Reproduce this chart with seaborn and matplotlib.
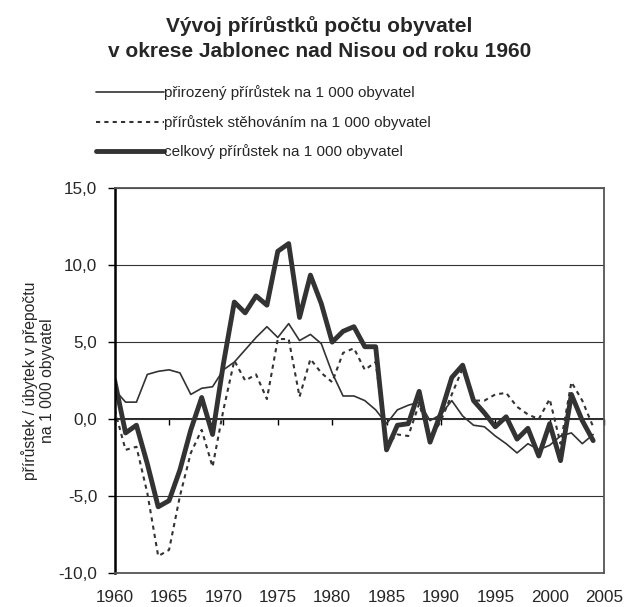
import numpy as np
import pandas as pd
import matplotlib
matplotlib.use('Agg')
import matplotlib.pyplot as plt
import seaborn as sns
from matplotlib.ticker import FuncFormatter

years = list(range(1960, 2005))

# natural increase per 1000 inhabitants
prirozeny = [1.9, 1.1, 1.1, 2.9, 3.1, 3.2, 3.0, 1.6, 2.0, 2.1,
             3.2, 3.7, 4.5, 5.3, 6.0, 5.3, 6.2, 5.1, 5.5, 4.9,
             3.0, 1.5, 1.5, 1.2, 0.6, -0.3, 0.6, 0.9, 1.1, -0.1,
             0.3, 1.2, 0.2, -0.4, -0.5, -1.1, -1.6, -2.2, -1.6, -2.0,
             -1.7, -1.1, -0.9, -1.6, -1.0]
# migration per 1000 inhabitants
stehovani = [0.6, -2.0, -1.8, -4.8, -8.9, -8.5, -5.0, -2.2, -0.7, -3.1,
             0.6, 3.8, 2.5, 2.9, 1.3, 5.2, 5.2, 1.45, 3.9, 3.0,
             2.4, 4.3, 4.6, 3.2, 3.7, -1.7, -1.0, -1.1, 1.0, -1.4,
             -0.1, 1.6, 3.3, 1.2, 1.2, 1.6, 1.7, 0.8, 0.3, 0.0,
             1.3, -1.6, 2.4, 1.2, -0.5]
# total increase per 1000 inhabitants
celkovy = [2.5, -0.9, -0.4, -2.9, -5.7, -5.3, -3.3, -0.7, 1.4, -1.0,
           3.6, 7.6, 6.9, 8.0, 7.4, 10.9, 11.4, 6.6, 9.35, 7.5,
           5.0, 5.7, 6.0, 4.7, 4.7, -2.0, -0.4, -0.3, 1.8, -1.5,
           0.4, 2.7, 3.5, 1.2, 0.4, -0.5, 0.15, -1.3, -0.6, -2.4,
           -0.3, -2.7, 1.6, -0.1, -1.4]

labels = ['přirozený přírůstek na 1 000 obyvatel',
          'přírůstek stěhováním na 1 000 obyvatel',
          'celkový přírůstek na 1 000 obyvatel']

df = pd.DataFrame({'rok': years, 'prirozeny': prirozeny,
                   'stehovani': stehovani, 'celkovy': celkovy})

sns.set_style('white')
plt.rcParams['font.family'] = ['Liberation Sans', 'DejaVu Sans']

col = '#333333'
fig = plt.figure(figsize=(6.26, 6.07), dpi=100)
ax = fig.add_axes([0.1832, 0.056, 0.7817, 0.634])

sns.lineplot(data=df, x='rok', y='prirozeny', ax=ax, color=col, lw=1.2,
             label=labels[0])
sns.lineplot(data=df, x='rok', y='stehovani', ax=ax, color=col, lw=1.5,
             linestyle=(0, (2, 2)), label=labels[1])
sns.lineplot(data=df, x='rok', y='celkovy', ax=ax, color=col, lw=3.5,
             label=labels[2])

ax.set_xlim(1960, 2005)
ax.set_ylim(-10, 15)
ax.set_xticks(range(1960, 2006, 5))
ax.set_yticks(np.arange(-10, 16, 5))
ax.yaxis.set_major_formatter(FuncFormatter(lambda v, p: f'{v:.1f}'.replace('.', ',')))
ax.tick_params(axis='x', length=0, labelsize=12.3, pad=12)
ax.tick_params(axis='y', left=True, length=5, width=1, color='black',
               direction='out', labelsize=12.3, pad=7.5)
ax.set_xlabel('')
ax.set_ylabel('přírůstek / úbytek v přepočtu\nna 1 000 obyvatel', fontsize=11.3,
              labelpad=2.5)

ax.yaxis.grid(True, color=col, lw=0.8)
ax.set_axisbelow(True)
for s in ['top', 'right', 'bottom']:
    ax.spines[s].set_color('#555555')
    ax.spines[s].set_linewidth(1.3)
ax.spines['left'].set_color('black')
ax.spines['left'].set_linewidth(1.8)

# category axis crossing at zero
sec = ax.secondary_xaxis(0.4)
sec.set_xticks(range(1960, 2006, 5))
sec.set_xticklabels([])
sec.tick_params(length=4, width=1, color='black', direction='out')
sec.spines['bottom'].set_color('black')
sec.spines['bottom'].set_linewidth(1.2)

handles, labs = ax.get_legend_handles_labels()
ax.get_legend().remove()
fig.legend(handles, labs, loc='upper left', bbox_to_anchor=(0.132, 0.882),
           frameon=False, fontsize=11, handlelength=4.4, handletextpad=0.05,
           labelspacing=0.95)

fig.suptitle('Vývoj přírůstků počtu obyvatel\nv okrese Jablonec nad Nisou od roku 1960',
             x=0.51, y=0.974, fontsize=15, fontweight='bold', linespacing=1.4)

fig.savefig('out.png', dpi=100)
